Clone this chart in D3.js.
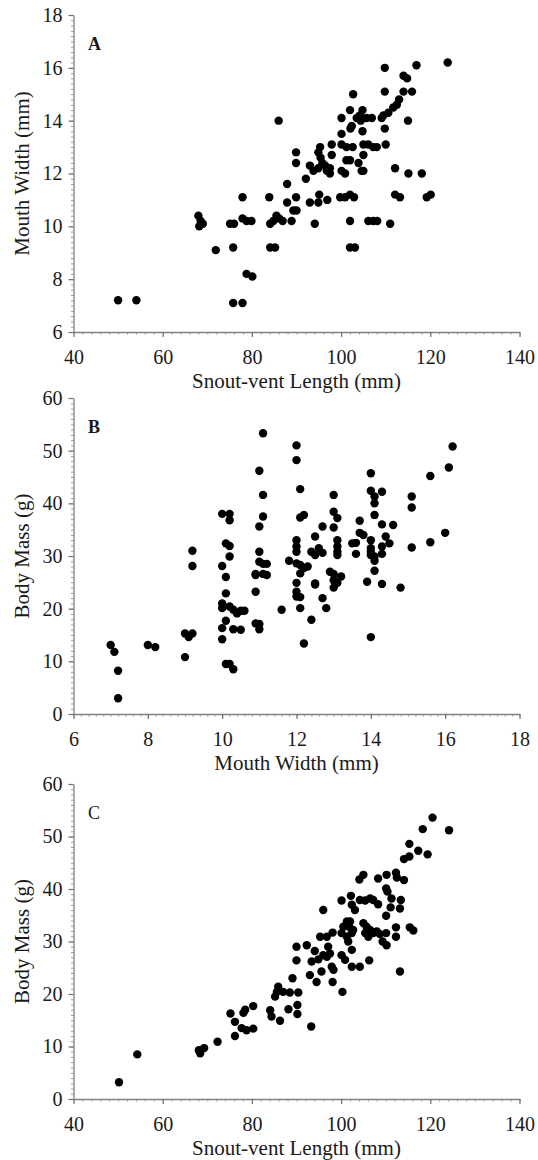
<!DOCTYPE html>
<html>
<head>
<meta charset="utf-8">
<script src="https://cdn.jsdelivr.net/npm/d3@7"></script>
<style>
  body { margin: 0; background: #fff; }
  text { font-family: "Liberation Serif", "Times New Roman", serif; }
</style>
</head>
<body>
<svg id="mainsvg" width="538" height="1160"></svg>
<script>
// ---- data ----
// A: snout-vent length vs mouth width
const svlA = [123.9,116.9,109.8,114.0,114.8,102.7,109.8,114.0,115.9,113.0,112.5,111.7,110.6,104.8,102.0,109.5,109.1,104.2,103.5,105.7,
  106.9,100.1,86.0,115.0,102.4,102.1,109.8,104.8,100.1,97.9,95.3,94.9,95.4,100.1,101.2,102.6,105.0,106.1,107.2,108.0,
  110.0,89.9,89.9,97.9,105.0,101.2,102.0,93.0,93.8,94.9,96.4,97.5,96.8,92.1,100.1,100.9,103.9,104.6,105.0,112.1,
  115.1,118.1,87.9,77.9,83.9,89.9,87.9,89.3,90.0,93.0,95.1,94.9,96.9,99.8,100.9,102.0,102.9,112.1,113.2,119.2,
  120.1,75.1,76.0,77.9,78.8,79.9,84.1,84.8,85.5,86.1,86.9,88.9,94.1,102.0,106.1,107.2,108.1,111.0,71.9,75.8,
  84.1,85.2,102.0,103.1,78.8,80.1,75.8,77.9,50.0,54.1,68.0,68.5,68.2,69.0,97.5,95.8,104.4];
const mouthA = [16.2,16.1,16.0,15.7,15.6,15.0,15.1,15.1,15.1,14.8,14.6,14.5,14.3,14.4,14.4,14.2,14.1,14.2,14.1,14.1,
  14.1,14.1,14.0,14.0,13.8,13.7,13.7,13.6,13.5,13.1,13.0,12.8,12.6,13.1,13.0,13.0,13.1,13.1,13.0,13.0,
  13.1,12.8,12.4,12.7,12.7,12.5,12.5,12.3,12.1,12.2,12.3,12.2,12.1,11.8,12.1,12.0,12.4,12.1,12.1,12.2,
  12.0,12.0,11.6,11.1,11.1,11.1,10.9,10.6,10.6,10.9,11.2,10.9,11.0,11.1,11.1,11.2,11.1,11.2,11.1,11.1,
  11.2,10.1,10.1,10.3,10.2,10.2,10.1,10.2,10.4,10.3,10.2,10.2,10.1,10.2,10.2,10.2,10.2,10.1,9.1,9.2,
  9.2,9.2,9.2,9.2,8.2,8.1,7.1,7.1,7.2,7.2,10.4,10.2,10.0,10.1,12.0,12.4,14.0];

// B: mouth width vs body mass
const mouthB = [11.1,12.0,12.0,16.2,11.0,16.1,15.6,14.0,12.1,11.1,13.0,14.0,14.3,14.1,14.1,15.1,15.1,10.0,10.2,10.2,
  11.1,11.0,12.1,12.2,13.0,13.1,13.0,12.7,13.7,14.1,14.3,14.6,9.2,9.2,10.1,10.2,10.2,10.0,10.1,11.0,
  11.0,11.1,11.2,10.9,10.9,11.1,11.2,11.8,12.0,12.0,12.0,12.0,12.1,12.2,12.3,12.1,12.0,12.0,12.0,12.1,
  12.1,12.5,12.4,12.5,12.6,12.7,12.5,12.5,12.7,12.8,12.4,12.2,13.1,13.1,13.1,13.1,12.9,13.0,13.2,13.0,
  13.1,13.0,13.5,13.6,13.6,13.7,13.8,14.0,14.0,14.0,14.1,14.0,14.1,14.3,14.4,14.5,14.3,14.1,13.9,14.3,
  14.8,15.1,15.6,16.0,14.0,10.1,10.0,10.2,10.3,10.0,10.4,10.5,10.6,11.6,10.1,10.0,10.3,10.5,10.9,10.9,
  11.0,11.0,10.0,9.0,9.1,9.2,9.0,10.1,10.2,10.3,7.0,7.1,7.2,7.2,8.0,8.2];
const massB = [53.3,51.0,48.2,50.8,46.2,46.8,45.2,45.7,42.7,41.6,41.6,42.4,42.2,41.3,40.0,41.3,39.2,38.0,38.0,36.8,
  37.5,35.6,37.3,37.8,38.4,37.2,35.4,35.6,36.7,37.8,36.0,35.9,31.0,28.1,32.4,31.9,29.9,28.1,26.0,30.8,
  28.9,28.5,28.5,26.6,26.4,26.6,26.4,29.1,33.0,31.8,30.8,28.6,28.3,27.7,28.0,26.7,24.9,23.2,22.3,22.2,
  20.1,33.7,30.8,30.2,31.5,30.6,24.8,24.6,22.0,20.1,17.9,13.4,33.0,31.8,30.8,30.2,27.0,26.6,26.1,25.4,
  24.9,24.0,32.4,32.5,30.4,34.4,34.0,33.0,31.5,30.2,29.1,30.8,29.9,31.8,33.7,32.4,30.4,27.2,25.1,24.7,
  24.0,31.6,32.6,34.4,14.6,22.9,21.0,20.4,19.8,20.1,19.1,19.6,19.6,19.8,17.7,16.3,16.1,16.0,23.2,17.2,
  17.1,16.1,14.2,15.3,14.6,15.3,10.8,9.5,9.5,8.5,13.1,11.8,8.2,3.0,13.1,12.7];

// C: snout-vent length vs body mass
const svlC = [120.5,118.3,124.2,115.3,117.3,119.4,114.1,115.3,104.1,105.0,108.3,110.2,112.3,112.5,114.1,110.1,110.4,100.1,102.2,104.2,
  105.4,106.5,107.2,108.3,111.3,113.4,113.2,111.1,102.4,103.1,96.0,110.1,112.3,115.4,116.2,110.1,112.3,109.3,110.2,101.3,
  102.0,100.5,101.8,102.7,102.4,100.1,101.3,101.6,102.4,105.0,105.7,106.5,107.2,105.4,106.1,108.0,108.7,98.1,96.8,95.3,
  90.0,92.3,94.1,97.1,97.5,96.0,94.9,93.4,96.8,100.1,100.9,102.4,104.2,106.3,97.9,98.3,95.6,93.0,94.5,98.1,
  100.3,113.2,90.0,89.1,85.9,85.6,85.2,87.0,88.5,90.4,90.2,90.2,84.1,84.4,86.3,88.2,80.3,78.5,78.1,75.2,
  76.2,77.7,78.8,80.3,76.2,93.3,72.3,68.1,68.4,69.3,50.2,54.3];
const massC = [53.6,51.4,51.2,48.6,47.3,46.6,45.7,46.2,41.8,42.7,42.0,42.7,43.1,42.2,41.7,40.1,39.5,37.8,38.7,37.9,
  37.8,38.2,37.9,37.1,38.2,37.9,36.3,36.5,37.0,36.0,36.0,34.9,32.7,32.7,32.1,31.6,30.9,30.0,29.3,33.8,
  33.8,32.8,32.8,32.2,31.6,31.6,30.9,30.0,28.4,33.5,32.8,32.2,31.6,31.6,30.9,31.9,31.4,31.7,30.9,30.9,
  29.0,29.3,28.2,29.0,27.7,27.4,26.6,26.2,27.1,27.4,26.5,25.2,25.2,26.4,25.2,24.6,24.3,23.6,22.3,22.3,
  20.4,24.3,26.4,23.0,21.4,20.4,19.5,20.4,20.3,20.3,17.9,16.2,16.9,15.7,14.9,17.1,17.7,17.0,16.4,16.3,
  14.7,13.5,13.1,13.4,12.0,13.8,10.9,9.3,8.7,9.7,3.2,8.5];

// ticks
const svlTicks = [40, 60, 80, 100, 120, 140];
const mouthTicks = [6, 8, 10, 12, 14, 16, 18];
const massTicks = [0, 10, 20, 30, 40, 50, 60];

// ---- layout ----
const svg = d3.select('#mainsvg');
const left = 73.5, right = 519.5;

function drawPanel(p) {
  const x = d3.scaleLinear().domain(p.xDomain).range([left, right]);
  const y = d3.scaleLinear().domain(p.yDomain).range([p.bottom, p.top]);
  const g = svg.append('g');

  // minor ticks
  const xStep = (p.xTicks[1] - p.xTicks[0]) / 10;
  const yStep = (p.yTicks[1] - p.yTicks[0]) / 10;
  g.append('g')
    .attr('transform', `translate(0,${p.bottom})`)
    .call(d3.axisBottom(x).tickValues(d3.range(p.xDomain[0], p.xDomain[1] + 1e-6, xStep)).tickSize(2.5).tickFormat(''))
    .call(a => a.select('.domain').remove())
    .call(a => a.selectAll('line').attr('stroke', '#9a9a9a'));
  g.append('g')
    .attr('transform', `translate(${left},0)`)
    .call(d3.axisLeft(y).tickValues(d3.range(p.yDomain[0], p.yDomain[1] + 1e-6, yStep)).tickSize(2.5).tickFormat(''))
    .call(a => a.select('.domain').remove())
    .call(a => a.selectAll('line').attr('stroke', '#9a9a9a'));

  // major axes
  const xa = g.append('g')
    .attr('transform', `translate(0,${p.bottom})`)
    .call(d3.axisBottom(x).tickValues(p.xTicks).tickSize(5).tickSizeOuter(0).tickPadding(13).tickFormat(d3.format('d')));
  const ya = g.append('g')
    .attr('transform', `translate(${left},0)`)
    .call(d3.axisLeft(y).tickValues(p.yTicks).tickSize(5).tickSizeOuter(0).tickPadding(6).tickFormat(d3.format('d')));
  [xa, ya].forEach(a => {
    a.select('.domain').attr('stroke', '#808080').attr('stroke-width', 1.3);
    a.selectAll('line').attr('stroke', '#707070').attr('stroke-width', 1.2);
    a.selectAll('text')
      .attr('font-family', '"Liberation Serif", serif')
      .attr('font-size', 20)
      .attr('fill', '#1a1a1a');
  });

  // points
  g.append('g')
    .selectAll('circle')
    .data(p.xs.map((v, i) => [v, p.ys[i]]))
    .join('circle')
    .attr('cx', d => x(d[0]))
    .attr('cy', d => y(d[1]))
    .attr('r', 4.2)
    .attr('fill', '#000');

  // titles
  g.append('text')
    .attr('x', (left + right) / 2)
    .attr('y', p.bottom + 56)
    .attr('text-anchor', 'middle')
    .attr('font-size', 21)
    .attr('fill', '#1a1a1a')
    .text(p.xTitle);
  g.append('text')
    .attr('transform', `translate(29,${(p.top + p.bottom) / 2}) rotate(-90)`)
    .attr('text-anchor', 'middle')
    .attr('font-size', 21)
    .attr('fill', '#1a1a1a')
    .text(p.yTitle);

  // panel letter
  g.append('text')
    .attr('x', 88)
    .attr('y', p.top + 35)
    .attr('font-size', 18)
    .attr('font-weight', p.bold ? 'bold' : 'normal')
    .attr('fill', '#1a1a1a')
    .text(p.letter);
}

drawPanel({ xs: svlA, ys: mouthA, xDomain: [40, 140], yDomain: [6, 18], top: 15, bottom: 332,
  xTicks: svlTicks, yTicks: mouthTicks, letter: 'A', bold: true,
  xTitle: 'Snout-vent Length (mm)', yTitle: 'Mouth Width (mm)' });

drawPanel({ xs: mouthB, ys: massB, xDomain: [6, 18], yDomain: [0, 60], top: 398, bottom: 714,
  xTicks: mouthTicks, yTicks: massTicks, letter: 'B', bold: true,
  xTitle: 'Mouth Width (mm)', yTitle: 'Body Mass (g)' });

drawPanel({ xs: svlC, ys: massC, xDomain: [40, 140], yDomain: [0, 60], top: 784, bottom: 1099,
  xTicks: svlTicks, yTicks: massTicks, letter: 'C', bold: false,
  xTitle: 'Snout-vent Length (mm)', yTitle: 'Body Mass (g)' });
</script>
</body>
</html>
